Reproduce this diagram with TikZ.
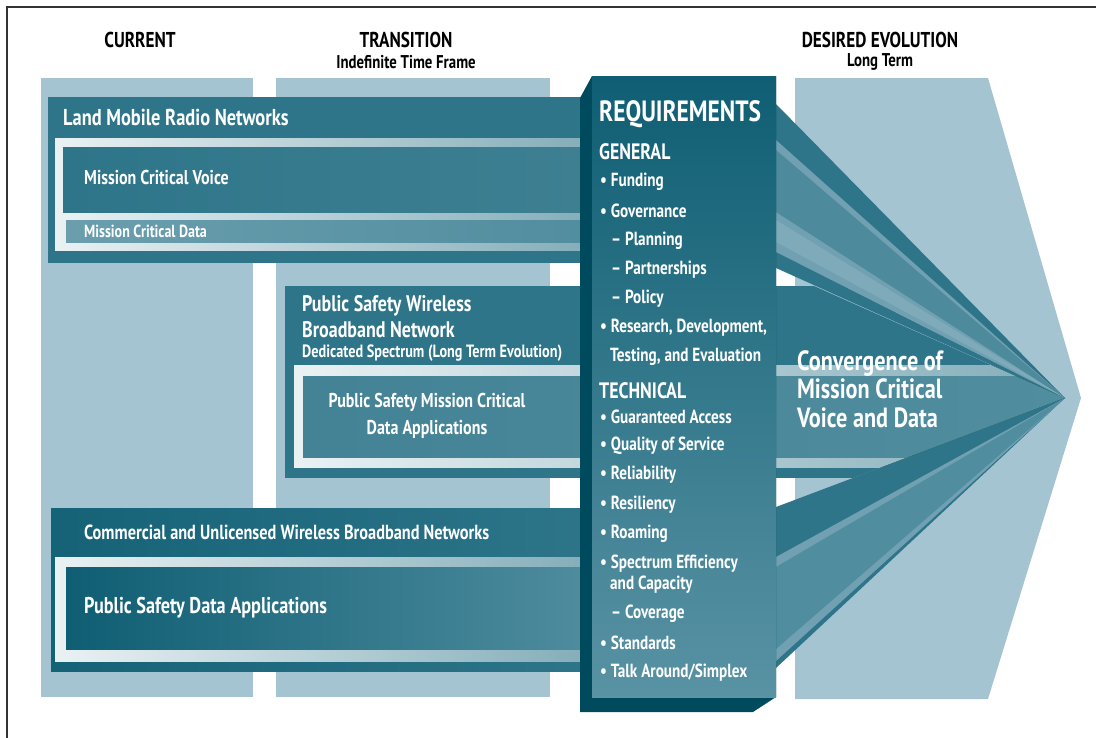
\documentclass[tikz,border=0pt]{standalone}
\usepackage{fontspec}
\setmainfont{PT Sans}[FakeStretch=0.8]
\usetikzlibrary{positioning}
\definecolor{colbg}{RGB}{164,196,210}
\definecolor{teal1}{RGB}{46,117,137}
\definecolor{tealdk}{RGB}{15,94,115}
\definecolor{tealdp}{RGB}{0,74,94}
\definecolor{tealmd}{RGB}{80,141,159}
\definecolor{tealpl}{RGB}{112,160,177}
\tikzset{col/.style={fill=colbg,draw=none},
 band/.style={fill=teal1,draw=none},
 frm/.style={left color=white!90!teal1,right color=teal1!60!white,draw=none},
 hd/.style={font=\bfseries\fontsize{21.5}{22}\selectfont,text=black,inner sep=0pt},
 sub/.style={font=\bfseries\fontsize{18.5}{19}\selectfont,text=black,inner sep=0pt},
 wl/.style={font=\bfseries\fontsize{23}{26}\selectfont,text=white,anchor=west,inner sep=0pt,align=left},
 ws/.style={font=\bfseries\fontsize{17.8}{19}\selectfont,text=white,anchor=west,inner sep=0pt},
 it/.style={font=\bfseries\fontsize{19}{22}\selectfont,text=white,anchor=west,inner sep=0pt,align=left}}
\newcommand{\bul}{\textbullet\ }
\begin{document}
\begin{tikzpicture}[x=1pt,y=-1pt]
\useasboundingbox (0,0) rectangle (1096,737);
\draw[line width=1.5pt,black!80] (7,750) -- (7,7) -- (1110,7);
% columns
\fill[col] (41,78) rectangle (253,697);
\fill[col] (276,78) rectangle (550,697);
\fill[col] (795,78) -- (988,78) -- (1081,398) -- (988,699) -- (795,699) -- cycle;
% land mobile radio
\fill[band] (48,97) rectangle (600,263);
\fill[frm] (55,138) rectangle (600,250);
\fill[left color=teal1,right color=teal1!92!white] (63,147) rectangle (600,212);
\fill[left color=tealmd!85!white,right color=tealmd] (66,220) rectangle (600,242);
% broadband network
\begin{scope}
\clip (285,286) -- (814,286) -- (1065,398) -- (853,478) -- (285,478) -- cycle;
\fill[band] (285,286) rectangle (1070,478);
\fill[frm] (294,365) rectangle (1070,467);
\fill[left color=teal1!90!white,right color=tealmd] (303,376) rectangle (1070,457);
\end{scope}
% commercial networks
\fill[left color=tealdk!80!teal1,right color=teal1] (51,508) rectangle (600,671);
\fill[frm] (55,557) rectangle (600,661);
\fill[left color=tealdk,right color=tealmd] (66,567) rectangle (600,649);
% converging fans
\fill[band] (776,104) -- (1065,398) -- (776,268) -- cycle;
\fill[tealpl] (776,140) -- (1065,398) -- (776,252) -- cycle;
\fill[teal1!85!white] (776,150) -- (1065,398) -- (776,212) -- cycle;
\fill[tealpl!90!white] (776,220) -- (1065,398) -- (776,242) -- cycle;
\fill[band] (776,507) -- (1065,398) -- (776,668) -- cycle;
\fill[tealpl] (776,557) -- (1065,398) -- (776,661) -- cycle;
\fill[tealmd] (776,567) -- (1065,398) -- (776,649) -- cycle;
% requirements box
\fill[tealdp] (592,76) -- (580,98) -- (580,712) -- (753,712) -- (776,697) -- (776,76) -- cycle;
\fill[top color=tealdk,bottom color=tealmd!95!white] (592,76) rectangle (776,697);
% headings
\node[hd](cur) at (140,40){CURRENT};
\node[hd](tra) at (406,40){TRANSITION};
\node[sub](traS) at (406,62){Indefinite Time Frame};
\node[hd](des) at (880,40){DESIRED EVOLUTION};
\node[sub](desS) at (880,62){Long Term};
% band labels
\node[wl](lmr) at (63,117){Land Mobile Radio Networks};
\node[wl,font=\bfseries\fontsize{20}{22}\selectfont](mcv) at (84,177){Mission Critical Voice};
\node[ws,font=\bfseries\fontsize{17.5}{19}\selectfont](mcd) at (84,231){Mission Critical Data};
\node[wl,font=\bfseries\fontsize{22.5}{26}\selectfont](pswb) at (302,317){Public Safety Wireless\\Broadband Network};
\node[ws](ded) at (302,353){Dedicated Spectrum (Long Term Evolution)};
\node[wl,anchor=center,align=center,font=\bfseries\fontsize{20}{27}\selectfont](psmc) at (427,416){Public Safety Mission Critical\\Data Applications};
\node[wl,font=\bfseries\fontsize{20.4}{22}\selectfont](com) at (84,532){Commercial and Unlicensed Wireless Broadband Networks};
\node[wl,font=\bfseries\fontsize{22.8}{24}\selectfont](psda) at (84,608){Public Safety Data Applications};
\node[wl,font=\bfseries\fontsize{27.8}{28.5}\selectfont](conv) at (797,389){Convergence of\\Mission Critical\\Voice and Data};
% requirements list
\node[wl,font=\bfseries\fontsize{29.3}{30}\selectfont](req) at (599,114){REQUIREMENTS};
\node[wl,font=\bfseries\fontsize{22.3}{23}\selectfont](gen) at (599,152){GENERAL};
\node[it](fund) at (600,182){\bul Funding};
\node[it](gov) at (600,211){\bul Governance};
\node[it](plan) at (611,241){-- Planning};
\node[it](part) at (611,270){-- Partnerships};
\node[it](pol) at (611,299){-- Policy};
\node[it](rde) at (600,328){\bul Research, Development,};
\node[it](tes) at (610,357){Testing, and Evaluation};
\node[wl,font=\bfseries\fontsize{22.3}{23}\selectfont](tec) at (599,391){TECHNICAL};
\node[it](gua) at (600,417){\bul Guaranteed Access};
\node[it](qos) at (600,446){\bul Quality of Service};
\node[it](rel) at (600,475){\bul Reliability};
\node[it](res) at (600,505){\bul Resiliency};
\node[it](roa) at (600,534){\bul Roaming};
\node[it](spe) at (600,564){\bul Spectrum Efficiency};
\node[it](cap) at (610,585){and Capacity};
\node[it](cov) at (611,614){-- Coverage};
\node[it](sta) at (600,643){\bul Standards};
\node[it](tal) at (600,673){\bul Talk Around/Simplex};
\end{tikzpicture}
\end{document}
